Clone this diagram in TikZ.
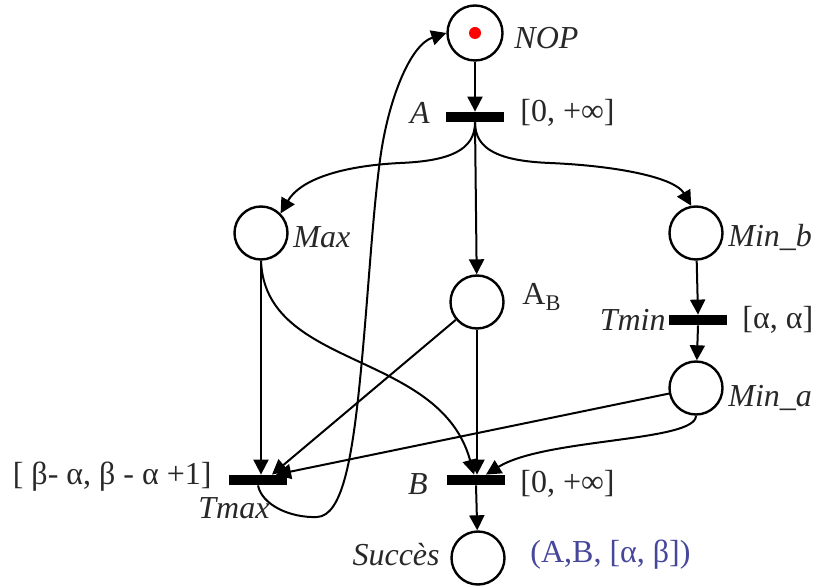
\documentclass[tikz,border=0pt]{standalone}
\usepackage{fontspec}
\setmainfont{Liberation Serif}
\usetikzlibrary{arrows.meta,calc}
\definecolor{lbl}{RGB}{40,40,40}
\definecolor{blu}{RGB}{70,70,155}
\begin{document}
\begin{tikzpicture}[x=0.5pt,y=-0.5pt,
  place/.style={circle,draw=black,line width=1.2pt,minimum size=26.5pt,inner sep=0pt,fill=white},
  trans/.style={rectangle,fill=black,minimum width=29pt,minimum height=5pt,inner sep=0pt},
  arc/.style={line width=1pt,-{Triangle[length=7.5pt,width=7.5pt]}},
  itl/.style={font=\fontsize{16}{19}\selectfont\itshape,text=lbl,inner sep=0pt},
  rom/.style={font=\fontsize{16}{19}\selectfont,text=lbl,inner sep=0pt},
]
\useasboundingbox (0,0) rectangle (818,587);
% places
\node[place,minimum size=27.5pt] (nop) at (475,33) {};
\fill[red] (nop.center) circle (3pt);
\node[place] (max) at (261,233) {};
\node[place] (ab) at (477,302) {};
\node[place] (minb) at (696,233) {};
\node[place] (mina) at (696,388) {};
\node[place] (succ) at (478,558) {};
% transitions
\node[trans] (tA) at (475,117) {};
\node[trans] (tmin) at (698,320) {};
\node[trans] (tmax) at (258,480) {};
\node[trans] (tB) at (476,480) {};
% labels
\node[itl,anchor=west] (lnop) at (514,38) {NOP};
\node[itl,anchor=east] (lA) at (430,113) {A};
\node[rom,anchor=west] (iA) at (520,113) {[0, +∞]};
\node[itl,anchor=west] (lmax) at (293,237) {Max};
\node[rom,anchor=west] (lab) at (522,297) {A\textsubscript{B}};
\node[itl,anchor=west] (lminb) at (728,237) {Min\_b};
\node[itl,anchor=east] (ltmin) at (666,320) {Tmin};
\node[rom,anchor=west] (itmin) at (742,320) {[α, α]};
\node[itl,anchor=west] (lmina) at (728,398) {Min\_a};
\node[rom,anchor=east] (itmax) at (212,477) {[ β- α, β - α +1]};
\node[itl] (ltmax) at (234,508) {Tmax};
\node[itl,anchor=east] (lB) at (428,484) {B};
\node[rom,anchor=west] (iB) at (520,484) {[0, +∞]};
\node[itl,anchor=east] (lsucc) at (440,555) {Succès};
\node[rom,anchor=west,text=blu] (lres) at (530,555) {(A,B, [α, β])};
% arcs
\draw[arc] (nop) -- (tA.north);
\draw[arc] (tA.south) .. controls (475,150) and (450,161) .. (400,163)
  .. controls (340,166) and (300,180) .. (max.north east);
\draw[arc] (tA.south) -- (ab);
\draw[arc] (tA.south) .. controls (475,150) and (500,161) .. (550,163)
  .. controls (620,166) and (675,178) .. (minb.100);
\draw[arc] (max.south) -- (max.south |- tmax.north);
\draw[arc] (max.south) .. controls (265,370) and (440,350) .. ([xshift=-1pt]tB.north);
\draw[arc] (ab) -- ([xshift=7pt]tmax.north);
\draw[arc] (ab) -- (ab |- tB.north);
\draw[arc] (minb) -- (tmin.north);
\draw[arc] (tmin.south) -- (mina);
\draw[arc] (mina) -- ([xshift=9pt]tmax.north);
\draw[arc] (mina.south) .. controls (696,442) and (545,438) .. ([xshift=5pt]tB.north);
\draw[arc] (tB.south) -- (succ);
\draw[arc] (tmax.south) .. controls (262,505) and (290,518) .. (317,517)
  .. controls (342,516) and (352,460) .. (360,380)
  .. controls (368,300) and (372,220) .. (380,160)
  .. controls (388,100) and (410,45) .. (nop.west);
\end{tikzpicture}
\end{document}
